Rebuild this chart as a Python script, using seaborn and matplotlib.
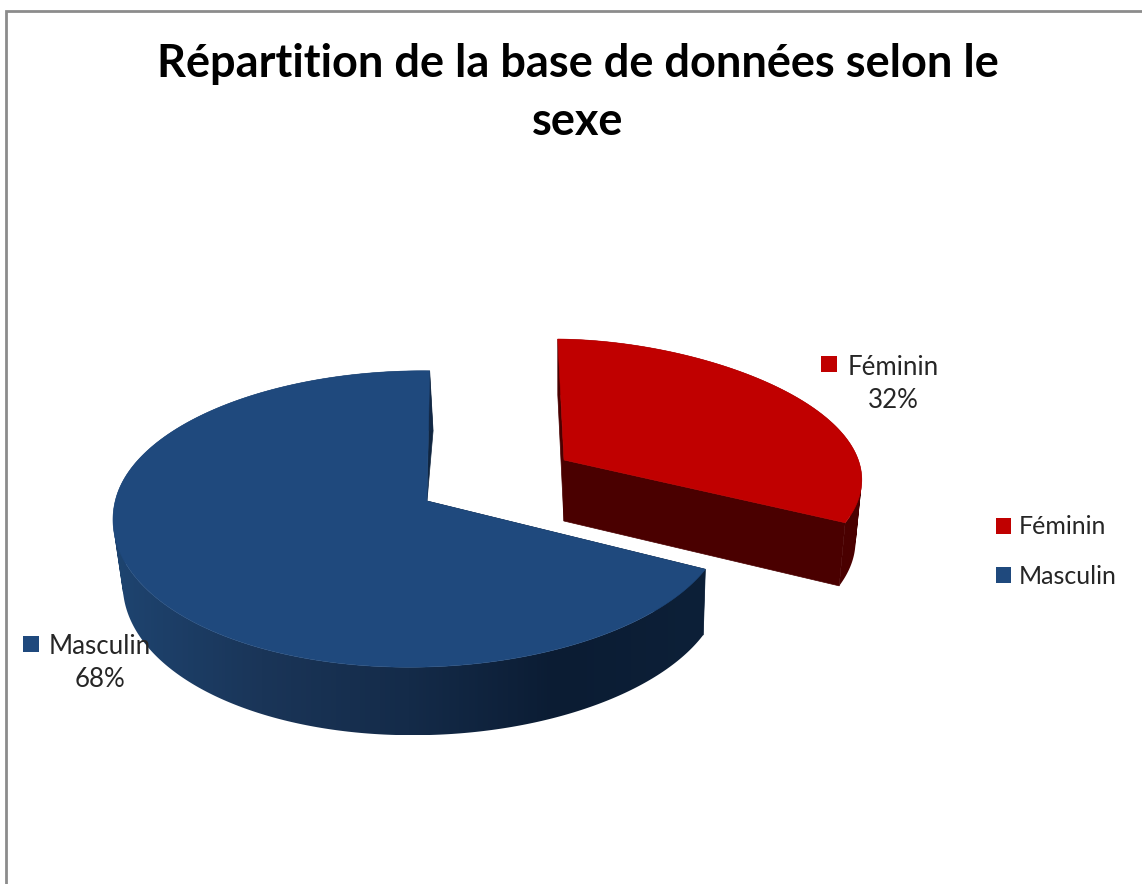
#!/usr/bin/env python
from __future__ import annotations

import matplotlib
matplotlib.use("Agg")
import matplotlib.pyplot as plt
import numpy as np
import seaborn as sns
from matplotlib.patches import Patch, PathPatch, Polygon
from matplotlib.path import Path

title = "Répartition de la base de données selon le\nsexe"
labels = ["Féminin", "Masculin"]
values = [32, 68]
colors = ["#C00000", "#1F497D"]

# pixel layout of each exploded slice, drawn as a tilted disc
red_geom = dict(cx=564, cy=460, a=257, b=38, ry=135.7, skew=-7, sag=0, lift=2, vx=560, shrink=0.979,
                depth=61, tilt=5, wall="#4A0000", wall_foot=True)
blue_geom = dict(cx=427, cy=501, a=303.6, b=-7.4, ry=146, skew=3, sag=-20, lift=3, vx=600, shrink=0.98,
                 depth=64, tilt=4, wall="#10253F", wall_foot=False)
PERSPECTIVE = 0.1216


def rim(t, g):
    sin_t = np.sin(t)
    s = 1 / (1 + PERSPECTIVE * sin_t)
    x = g["cx"] + ((g["a"] + g["b"] * np.cos(t)) * np.cos(t) + g["skew"] * sin_t) * s
    x = x + g["sag"] * np.minimum(sin_t, 0) ** 2
    y = g["cy"] - g["ry"] * sin_t * s + g["lift"] * np.cos(t)
    return x, y


def lower(x, y, t, g):
    # same outline pushed down to the underside of the disc
    return g["vx"] + (x - g["vx"]) * g["shrink"], y + g["depth"] - g["tilt"] * np.sin(t)


def band_path(x, y, xb, yb) -> Path:
    # one quad per step, all wound the same way, so the folds at the extremes stay filled
    quads = []
    for i in range(len(x) - 1):
        quad = np.array([(x[i], y[i]), (x[i + 1], y[i + 1]), (xb[i + 1], yb[i + 1]), (xb[i], yb[i]), (x[i], y[i])])
        area = np.sum(quad[:-1, 0] * quad[1:, 1] - quad[1:, 0] * quad[:-1, 1])
        if area < 0:
            quad = quad[::-1]
        quads.append(Path(quad, closed=True))
    return Path.make_compound_path(*quads)


def draw_slice(ax, start, stop, face, side, g):
    t = np.linspace(start, stop, 360)
    x, y = rim(t, g)
    xb, yb = lower(x, y, t, g)

    # the inner walls that show through the gap
    ax0, ay0 = g["cx"], g["cy"]
    foot = lower(ax0, ay0, 0.0, g)
    for i in (0, -1):
        wall = [(ax0, ay0), (x[i], y[i]), (xb[i], yb[i])]
        if g["wall_foot"]:
            wall.append(foot)
        ax.add_patch(Polygon(wall, closed=True, fc=g["wall"], ec=g["wall"], lw=0.5, zorder=2))

    # outer side with its left to right shading
    clip = PathPatch(band_path(x, y, xb, yb), transform=ax.transData, fc="none", ec="none")
    ax.add_patch(clip)
    band = np.array(sns.blend_palette(side, n_colors=256))[:, :3][np.newaxis, :, :]
    img = ax.imshow(band, extent=(min(x.min(), xb.min()), max(x.max(), xb.max()), yb.max(), y.min()),
                    aspect="auto", interpolation="bilinear", zorder=2.1)
    img.set_clip_path(clip)

    top = np.column_stack([np.r_[ax0, x], np.r_[ay0, y]])
    ax.add_patch(Polygon(top, closed=True, fc=face, ec=face, lw=0.4, zorder=3))


sns.set_theme(style="white")
plt.rcParams["font.family"] = ["Lato", "DejaVu Sans"]

fig = plt.figure(figsize=(11.42, 8.84), dpi=100)
ax = fig.add_axes([0, 0, 1, 1])

# chart frame, cut by the edge of the screenshot on the right and bottom
ax.plot([6.3, 6.3, 1142], [884, 11.3, 11.3], color="#8c8c8c", lw=2, solid_joinstyle="miter", zorder=1)

fractions = np.cumsum([0] + values) / sum(values)
angles = np.pi / 2 - 2 * np.pi * fractions
side_colors = [["#4A0000", "#4A0000"], ["#1E4470", "#1A3558", "#142B49", "#0B1C33", "#0D2038"]]
geoms = [red_geom, blue_geom]
for i in (1, 0):
    draw_slice(ax, angles[i], angles[i + 1], colors[i], side_colors[i], geoms[i])

ax.set_xlim(0, 1142)
ax.set_ylim(884, 0)
ax.axis("off")

ax.text(578, 93, title, ha="center", va="center", fontsize=32.5, fontweight="bold",
        color="black", linespacing=1.445, zorder=5)

# data labels
label_xy = [(893, 367), (100, 646)]
marker_xy = [(829, 364), (31, 644)]
for name, val, col, (lx, ly), (mx, my) in zip(labels, values, colors, label_xy, marker_xy):
    ax.text(lx, ly + 17, f"{name}\n{val}%", ha="center", va="center", fontsize=18.6,
            color="#262626", linespacing=1.38, zorder=6)
    ax.scatter([mx], [my], marker="s", s=117, color=col, linewidths=0, zorder=6)

handles = [Patch(fc=c, ec="none") for c in colors]
leg = ax.legend(handles, labels, loc="upper left", bbox_to_anchor=(988, 508), bbox_transform=ax.transData,
                frameon=False, fontsize=18, handlelength=0.62, handleheight=0.62, handletextpad=0.32,
                labelspacing=1.04, borderpad=0.3, borderaxespad=0, labelcolor="#262626")

plt.savefig("out.png", dpi=100)
